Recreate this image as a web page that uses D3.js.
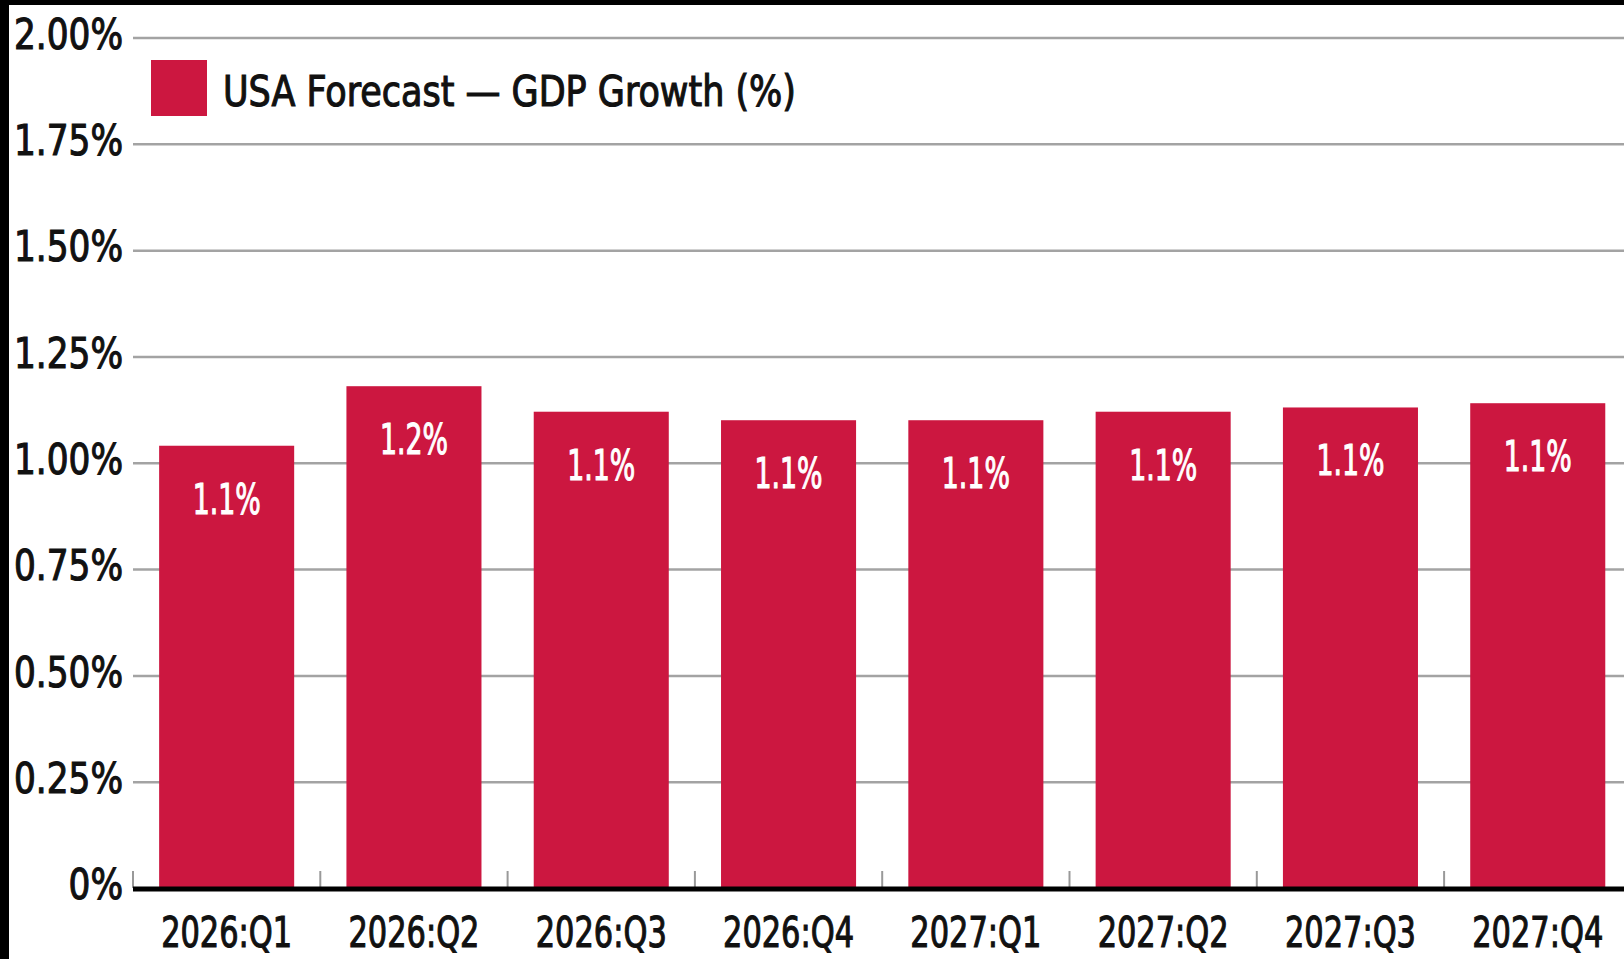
<!DOCTYPE html>
<html>
<head>
<meta charset="utf-8">
<script src="https://cdn.jsdelivr.net/npm/d3@7"></script>
<style>
  html, body { margin: 0; padding: 0; background: #000; }
  svg { display: block; }
  text { font-family: "DejaVu Sans Condensed", "DejaVu Sans", sans-serif; font-stretch: condensed; }
</style>
</head>
<body>
<div id="chart"></div>
<script>
  // chart data
  var categories = ['2026:Q1', '2026:Q2', '2026:Q3', '2026:Q4', '2027:Q1', '2027:Q2', '2027:Q3', '2027:Q4'];
  var gdpGrowth = [1.04, 1.18, 1.12, 1.10, 1.10, 1.12, 1.13, 1.14];
  var barLabels = ['1.1%', '1.2%', '1.1%', '1.1%', '1.1%', '1.1%', '1.1%', '1.1%'];
  var yTicks = [0, 0.25, 0.5, 0.75, 1, 1.25, 1.5, 1.75, 2];
  var legendLabel = 'USA Forecast \u2014 GDP Growth (%)';

  var width = 1624, height = 959;
  var plotLeft = 133, plotRight = 1624;
  var barColor = '#cc1740';
  var fontSize = 43;

  var svg = d3.select('#chart').append('svg')
    .attr('width', width)
    .attr('height', height);

  // measure a string at the chart font, used to narrow glyphs like the original condensed face
  function measure(str, size) {
    var t = svg.append('text').attr('font-size', size).text(str);
    var w = t.node().getComputedTextLength();
    t.remove();
    return w;
  }
  function squeeze(sel, factor, color) {
    sel.each(function () {
      var w = this.getComputedTextLength();
      d3.select(this)
        .attr('textLength', w * factor)
        .attr('lengthAdjust', 'spacingAndGlyphs')
        .attr('stroke', color)
        .attr('stroke-width', 1.1);
    });
  }

  // white panel (screenshot has black strip on left/top)
  svg.append('rect')
    .attr('x', 9).attr('y', 5)
    .attr('width', width - 9).attr('height', height - 5)
    .attr('fill', '#fff');

  var y = d3.scaleLinear().domain([0, 2]).range([888, 37.5]);
  var x = d3.scaleBand()
    .domain(categories)
    .range([plotLeft, plotLeft + 8 * 187.3])
    .paddingInner(0.279)
    .paddingOuter(0.1395);

  // y axis with gridlines
  var yAxis = svg.append('g')
    .attr('transform', 'translate(' + plotLeft + ',0)')
    .call(d3.axisLeft(y)
      .tickValues(yTicks)
      .tickSize(-(plotRight - plotLeft))
      .tickPadding(10)
      .tickFormat(function (d) { return d === 0 ? '0%' : d.toFixed(2) + '%'; }));

  yAxis.select('.domain').remove();
  yAxis.selectAll('.tick line')
    .attr('stroke', '#a3a3a3')
    .attr('stroke-width', 2.5);
  yAxis.selectAll('.tick text')
    .attr('fill', '#111')
    .attr('font-family', null)
    .attr('font-size', fontSize)
    .attr('dy', '0.25em');
  squeeze(yAxis.selectAll('.tick text'), 109 / measure('2.00%', fontSize), '#111');

  // category ticks sit on band boundaries
  var gap = x.step() - x.bandwidth();
  svg.append('g').selectAll('line.cat-tick')
    .data(categories)
    .enter().append('line')
    .attr('class', 'cat-tick')
    .attr('x1', function (d) { return x(d) - gap / 2; })
    .attr('x2', function (d) { return x(d) - gap / 2; })
    .attr('y1', y(0) - 17)
    .attr('y2', y(0))
    .attr('stroke', '#999')
    .attr('stroke-width', 2);

  // bars
  svg.append('g').selectAll('rect.bar')
    .data(gdpGrowth)
    .enter().append('rect')
    .attr('class', 'bar')
    .attr('x', function (d, i) { return x(categories[i]); })
    .attr('y', function (d) { return y(d); })
    .attr('width', x.bandwidth())
    .attr('height', function (d) { return y(0) - y(d); })
    .attr('fill', barColor);

  // bar value labels
  var barText = svg.append('g').selectAll('text.bar-label')
    .data(gdpGrowth)
    .enter().append('text')
    .attr('class', 'bar-label')
    .attr('x', function (d, i) { return x(categories[i]) + x.bandwidth() / 2; })
    .attr('y', function (d) { return y(d) + 68; })
    .attr('text-anchor', 'middle')
    .attr('fill', '#fff')
    .attr('font-size', fontSize)
    .text(function (d, i) { return barLabels[i]; });
  squeeze(barText, 68 / measure('1.1%', fontSize), '#fff');

  // baseline
  svg.append('line')
    .attr('x1', plotLeft).attr('x2', plotRight)
    .attr('y1', y(0) + 1).attr('y2', y(0) + 1)
    .attr('stroke', '#000')
    .attr('stroke-width', 5);

  // x axis labels
  var xAxis = svg.append('g')
    .attr('transform', 'translate(0,' + y(0) + ')')
    .call(d3.axisBottom(x).tickSize(0));
  xAxis.select('.domain').remove();
  xAxis.selectAll('.tick text')
    .attr('y', 59)
    .attr('dy', 0)
    .attr('fill', '#111')
    .attr('font-family', null)
    .attr('font-size', fontSize);
  squeeze(xAxis.selectAll('.tick text'), 131 / measure('2026:Q1', fontSize), '#111');

  // legend
  var legend = svg.append('g');
  legend.append('rect')
    .attr('x', 151).attr('y', 60)
    .attr('width', 56).attr('height', 56)
    .attr('fill', barColor);
  var legendText = legend.append('text')
    .attr('x', 223)
    .attr('y', 106)
    .attr('fill', '#111')
    .attr('font-size', fontSize)
    .text(legendLabel);
  squeeze(legendText, 573 / measure(legendLabel, fontSize), '#111');
</script>
</body>
</html>
